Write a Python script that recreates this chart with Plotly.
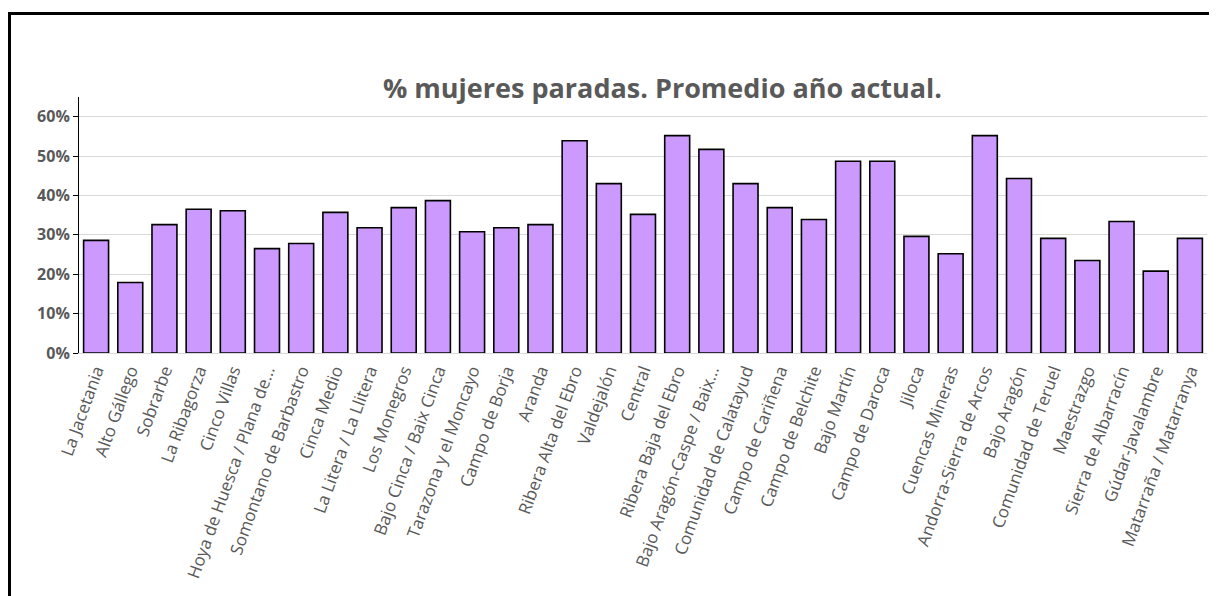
import plotly.graph_objects as go

categories = ["La Jacetania", "Alto Gállego", "Sobrarbe", "La Ribagorza", "Cinco Villas",
              "Hoya de Huesca / Plana de...", "Somontano de Barbastro", "Cinca Medio",
              "La Litera / La Llitera", "Los Monegros", "Bajo Cinca / Baix Cinca",
              "Tarazona y el Moncayo", "Campo de Borja", "Aranda", "Ribera Alta del Ebro",
              "Valdejalón", "Central", "Ribera Baja del Ebro", "Bajo Aragón-Caspe / Baix...",
              "Comunidad de Calatayud", "Campo de Cariñena", "Campo de Belchite", "Bajo Martín",
              "Campo de Daroca", "Jiloca", "Cuencas Mineras", "Andorra-Sierra de Arcos",
              "Bajo Aragón", "Comunidad de Teruel", "Maestrazgo", "Sierra de Albarracín",
              "Gúdar-Javalambre", "Matarraña / Matarranya"]

pct_mujeres = [0.286, 0.179, 0.326, 0.365, 0.361, 0.265, 0.278, 0.357, 0.318, 0.369,
               0.387, 0.308, 0.318, 0.326, 0.539, 0.430, 0.352, 0.552, 0.517, 0.430,
               0.369, 0.339, 0.487, 0.487, 0.296, 0.252, 0.552, 0.443, 0.291, 0.235,
               0.334, 0.208, 0.291]

y_ticks = [0, 0.1, 0.2, 0.3, 0.4, 0.5, 0.6]
y_ticklabels = ["0%", "10%", "20%", "30%", "40%", "50%", "60%"]

title_text = "% mujeres paradas. Promedio año actual."

# page has an 8px body margin; work in window pixels and convert
OFF = 8
WIN_W, WIN_H = 1217, 596
W, H = WIN_W - OFF, WIN_H - OFF
PL, PR, PT, PB = 79, 1207, 97, 353   # plot area in window pixels
L = PL - OFF
R = W - (PR - OFF)
T = PT - OFF
B = H - (PB - OFF)
pw = PR - PL
ph = PB - PT

def px_to_paper_x(px):
    return (px - PL) / pw

def px_to_paper_y(py):
    return (PB - py) / ph

fig = go.Figure()
fig.add_trace(go.Bar(
    x=categories, y=pct_mujeres,
    marker=dict(color="#CC99FF", line=dict(color="#000000", width=1.6)),
))

fig.update_layout(
    width=W, height=H,
    margin=dict(l=L, r=R, t=T, b=B, autoexpand=False),
    paper_bgcolor="white", plot_bgcolor="white",
    bargap=0.27,
    showlegend=False,
    font=dict(family="Open Sans", color="#595959"),
    shapes=[dict(type="rect", xref="paper", yref="paper",
                 x0=px_to_paper_x(9.5), x1=px_to_paper_x(WIN_W + 100),
                 y0=px_to_paper_y(WIN_H + 100), y1=px_to_paper_y(13.5),
                 line=dict(color="black", width=3), fillcolor="rgba(0,0,0,0)",
                 layer="above")],
    annotations=[dict(text="<b>" + title_text + "</b>", xref="paper", yref="paper",
                      x=px_to_paper_x(662), y=px_to_paper_y(87),
                      xanchor="center", yanchor="middle", showarrow=False,
                      font=dict(family="Open Sans", size=27, color="#595959"))],
)

fig.update_xaxes(
    type="category", tickangle=-70,
    tickfont=dict(family="Open Sans", size=17, color="#595959"),
    showline=True, linecolor="#d9d9d9", linewidth=1,
    ticks="", showgrid=False,
)
fig.update_yaxes(
    range=[0, 0.65], tickvals=y_ticks, ticktext=y_ticklabels,
    tickfont=dict(family="Open Sans", size=16, color="#595959", weight="bold"),
    showgrid=True, gridcolor="#d9d9d9", gridwidth=1,
    showline=True, linecolor="black", linewidth=1,
    ticks="outside", ticklen=5, tickcolor="black",
    zeroline=False,
)

fig.write_html("out.html")
